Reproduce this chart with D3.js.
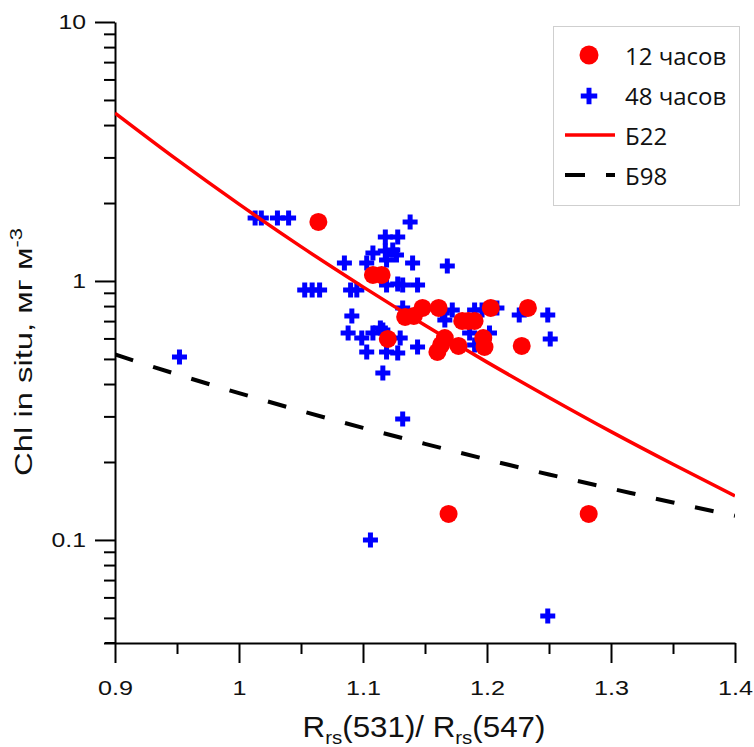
<!DOCTYPE html>
<html><head><meta charset="utf-8">
<script src="https://cdn.jsdelivr.net/npm/d3@7"></script>
<style>html,body{margin:0;padding:0;background:#fff;}</style>
</head><body>
<svg id="chart" width="754" height="747"></svg>
<script>
// ---- data ----
const xTicks = [0.9, 1, 1.1, 1.2, 1.3, 1.4];
const xMinorTicks = [0.95, 1.05, 1.15, 1.25, 1.35];
const yTicks = [0.1, 1, 10];
const yMinorTicks = [0.04,0.05,0.06,0.07,0.08,0.09,0.2,0.3,0.4,0.5,0.6,0.7,0.8,0.9,2,3,4,5,6,7,8,9];

const x12 = [1.064,1.108,1.115,1.120,1.134,1.141,1.148,1.161,1.180,1.185,1.190,1.203,1.233,1.166,1.163,1.160,1.177,1.197,1.198,1.228,1.169,1.282];
const y12 = [1.690,1.055,1.055,0.597,0.726,0.733,0.787,0.787,0.701,0.701,0.701,0.787,0.787,0.602,0.566,0.532,0.561,0.602,0.556,0.561,0.126,0.126];

const x48 = [0.952,1.013,1.018,1.031,1.040,1.053,1.059,1.065,1.085,1.090,1.095,1.091,1.088,1.099,1.108,1.114,1.103,1.119,1.128,1.116,1.108,1.103,1.118,1.128,1.138,1.118,1.124,1.119,1.127,1.140,1.168,1.119,1.128,1.132,1.144,1.132,1.164,1.172,1.190,1.196,1.208,1.226,1.249,1.251,1.166,1.186,1.202,1.190,1.130,1.144,1.116,1.106,1.132,1.249];
const y48 = [0.509,1.751,1.751,1.751,1.751,0.923,0.923,0.923,1.173,0.923,0.923,0.733,0.630,0.602,0.630,0.659,0.532,0.532,0.527,0.441,1.283,1.173,1.479,1.479,1.690,1.306,1.317,1.205,1.260,1.173,1.143,0.965,0.974,0.965,0.965,0.787,0.752,0.773,0.773,0.773,0.787,0.739,0.739,0.597,0.707,0.630,0.630,0.566,0.602,0.556,0.647,0.100,0.293,0.0509];

const curveX = [0.9,0.95,1.0,1.05,1.1,1.15,1.2,1.25,1.3,1.35,1.4];
const b22 = [4.45,2.94,1.98,1.357,0.949,0.674,0.486,0.355,0.262,0.196,0.148];
const b98 = [0.52,0.436,0.369,0.315,0.271,0.235,0.2045,0.179,0.158,0.1395,0.124];

const legendLabels = ["12 часов", "48 часов", "Б22", "Б98"];

// ---- layout ----
const svg = d3.select("#chart");
const L = 115, R = 735, T = 22, B = 643;
const x = d3.scaleLinear().domain([0.9, 1.4]).range([L, R]);
const y = d3.scaleLog().domain([0.04, 10]).range([B, T]);

svg.append("rect").attr("width",754).attr("height",747).attr("fill","#fff");

svg.append("defs").append("clipPath").attr("id","clip")
  .append("rect").attr("x",L).attr("y",T).attr("width",R-L).attr("height",B-T);

const tickFont = "'Liberation Sans', Arial, sans-serif";

// minor ticks
svg.append("g").attr("transform",`translate(${L},0)`)
  .call(d3.axisLeft(y).tickValues(yMinorTicks).tickSize(11).tickFormat(""))
  .call(g=>g.select(".domain").remove())
  .call(g=>g.selectAll("line").attr("stroke","#000").attr("stroke-width",2));
svg.append("g").attr("transform",`translate(0,${B})`)
  .call(d3.axisBottom(x).tickValues(xMinorTicks).tickSize(11).tickFormat(""))
  .call(g=>g.select(".domain").remove())
  .call(g=>g.selectAll("line").attr("stroke","#000").attr("stroke-width",2));

// major y axis
svg.append("g").attr("transform",`translate(${L},0)`)
  .call(d3.axisLeft(y).tickValues(yTicks).tickSize(20).tickSizeOuter(0).tickPadding(9)
        .tickFormat(d3.format("~g")))
  .call(g=>g.select(".domain").attr("stroke","#000").attr("stroke-width",2))
  .call(g=>g.selectAll("line").attr("stroke","#000").attr("stroke-width",2))
  .call(g=>g.selectAll("text").attr("font-family",tickFont).attr("font-size",21)
        .attr("fill","#111").attr("transform","scale(1.18,1)")
        .attr("x",-29/1.18));

// major x axis
svg.append("g").attr("transform",`translate(0,${B})`)
  .call(d3.axisBottom(x).tickValues(xTicks).tickSize(20).tickSizeOuter(0).tickPadding(17)
        .tickFormat(d3.format("~g")))
  .call(g=>g.select(".domain").attr("stroke","#000").attr("stroke-width",2))
  .call(g=>g.selectAll("line").attr("stroke","#000").attr("stroke-width",2))
  .call(g=>g.selectAll("text").attr("font-family",tickFont).attr("font-size",21)
        .attr("fill","#111").attr("transform","scale(1.2,1)"));
svg.append("line").attr("x1",L-10).attr("x2",L).attr("y1",B).attr("y2",B)
  .attr("stroke","#000").attr("stroke-width",2);

// axis titles
const xt = svg.append("text").attr("font-family",tickFont).attr("font-size",29).attr("fill","#111")
  .attr("text-anchor","middle").attr("x",0).attr("y",0);
xt.append("tspan").text("R");
xt.append("tspan").attr("font-size",19).attr("dy",7).text("rs");
xt.append("tspan").attr("dy",-7).text("(531)/ R");
xt.append("tspan").attr("font-size",19).attr("dy",7).text("rs");
xt.append("tspan").attr("dy",-7).text("(547)");
{
  const len = xt.node().getComputedTextLength();
  const s = 243/len;
  xt.attr("transform",`translate(424,737) scale(${s},1)`);
}

const ytg = svg.append("g").attr("transform","translate(32,352) rotate(-90)");
const yt = ytg.append("text").attr("font-family",tickFont).attr("font-size",24).attr("fill","#111")
  .attr("text-anchor","middle");
yt.append("tspan").text("Chl in situ, мг м");
yt.append("tspan").attr("font-size",16).attr("dy",-10).text("-3");
{
  const len = yt.node().getComputedTextLength();
  const s = 248/len;
  yt.attr("transform",`scale(${s},1)`);
}

// plot content
const plot = svg.append("g").attr("clip-path","url(#clip)");
const plusPath = "M-7.5,0H7.5M0,-7.5V7.5";

plot.append("g").selectAll("path").data(d3.range(x48.length)).join("path")
  .attr("d",plusPath).attr("transform",i=>`translate(${x(x48[i])},${y(y48[i])})`)
  .attr("stroke","#0000ff").attr("stroke-width",5).attr("fill","none");

plot.append("g").selectAll("circle").data(d3.range(x12.length)).join("circle")
  .attr("cx",i=>x(x12[i])).attr("cy",i=>y(y12[i])).attr("r",9).attr("fill","#ff0000");

const line = d3.line().x(d=>x(d[0])).y(d=>y(d[1])).curve(d3.curveMonotoneX);
plot.append("path").datum(curveX.map((v,i)=>[v,b22[i]])).attr("d",line)
  .attr("fill","none").attr("stroke","#ff0000").attr("stroke-width",3.5);
plot.append("path").datum(curveX.map((v,i)=>[v,b98[i]])).attr("d",line)
  .attr("fill","none").attr("stroke","#000").attr("stroke-width",4).attr("stroke-dasharray","19,21");

// legend
const lg = svg.append("g");
lg.append("rect").attr("x",553.5).attr("y",26.5).attr("width",186).attr("height",179)
  .attr("fill","#fff").attr("stroke","#cfcfcf").attr("stroke-width",1);
const legFont = "'Open Sans', 'Noto Sans', sans-serif";
lg.append("circle").attr("cx",589).attr("cy",55).attr("r",9.5).attr("fill","#ff0000");
lg.append("path").attr("d",plusPath).attr("transform","translate(589,96) scale(1.1)")
  .attr("stroke","#0000ff").attr("stroke-width",4.5).attr("fill","none");
lg.append("line").attr("x1",565).attr("x2",615).attr("y1",135).attr("y2",135)
  .attr("stroke","#ff0000").attr("stroke-width",3.5);
lg.append("line").attr("x1",565).attr("x2",615).attr("y1",175).attr("y2",175)
  .attr("stroke","#000").attr("stroke-width",4).attr("stroke-dasharray","20,21");
const legY = [65,105,145,185];
lg.selectAll("text.lt").data(legendLabels).join("text").attr("class","lt")
  .attr("x",625).attr("y",(d,i)=>legY[i]).attr("font-family",legFont).attr("font-size",24)
  .attr("fill","#111").text(d=>d);
</script>
</body></html>
